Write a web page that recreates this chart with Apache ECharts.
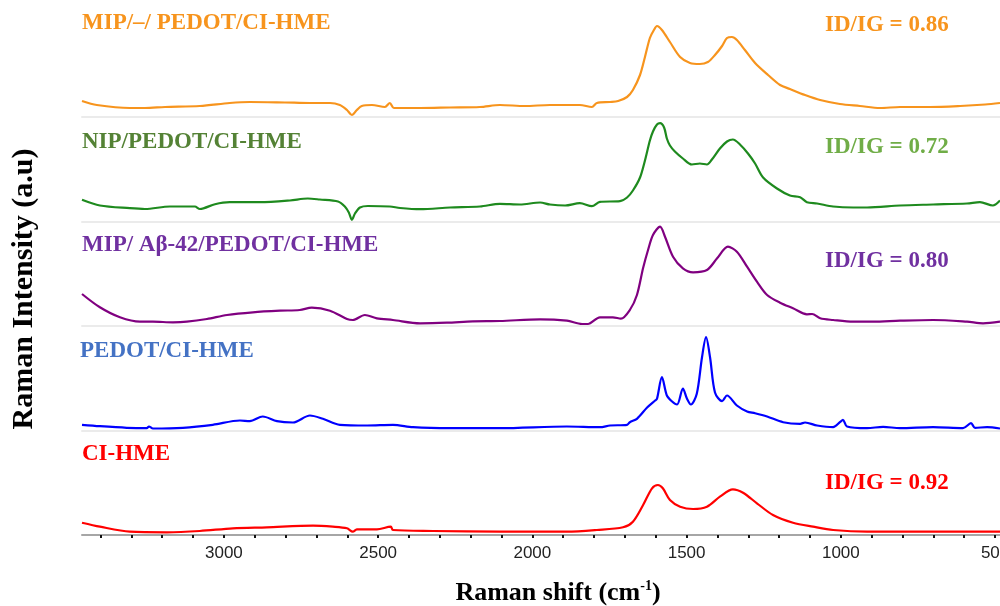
<!DOCTYPE html>
<html>
<head>
<meta charset="utf-8">
<style>
  html, body { margin: 0; padding: 0; background: #fff; }
  #chart { width: 1000px; height: 606px; }
</style>
<script src="https://cdn.jsdelivr.net/npm/echarts@6/dist/echarts.min.js"></script>
</head>
<body>
<div id="chart"></div>
<script>
// Raman shift axis (cm-1), drawn high to low
const shiftMin = 484;
const shiftMax = 3460;
const tickLabels = [3000, 2500, 2000, 1500, 1000, 500];
const tickMarks = [500, 600, 700, 800, 900, 1000, 1100, 1200, 1300, 1400, 1500, 1600, 1700, 1800, 1900,
  2000, 2100, 2200, 2300, 2400, 2500, 2600, 2700, 2800, 2900, 3000, 3100, 3200, 3300, 3400];

// MIP/–/ PEDOT/CI-HME
const mipEmptyShift = [3460,3412,3305,3256,3191,3078,2981,2916,2802,2721,2656,2624,2601,2585,2569,2553,2520,2478,2462,2449,
  2364,2267,2170,2105,2024,1943,1846,1807,1791,1748,1722,1693,1674,1651,1635,1619,1606,1596,1580,1554,
  1521,1489,1457,1431,1408,1385,1369,1353,1337,1311,1278,1236,1197,1165,1116,1067,1003,938,873,808,711,613,532,484];
const mipEmptyInt = [16,12,9,9,10,11,14,15,14.5,14,14,12,7,2,7,11,12,10,14,9,
  9,9.5,10,12,11,12,12,10,14,15,16,20,27,42,60,79,87,91,87,75,
  60,54,53,55,62,71,79,80,77,67,54,42,32,28,22,17,13,11,9,10,10,11,12.5,14];

// NIP/PEDOT/CI-HME
const nipShift = [3460,3402,3305,3256,3175,3094,3078,3029,2981,2883,2786,2728,2689,2630,2608,2595,2585,2575,2559,2533,
  2462,2429,2364,2267,2170,2105,2040,1975,1943,1894,1846,1807,1781,1716,1693,1674,1651,1635,1619,1609,
  1596,1586,1573,1564,1554,1538,1512,1483,1457,1434,1418,1392,1369,1350,1327,1301,1278,1252,1207,1165,
  1132,1110,1077,1025,960,915,808,701,591,549,507,484];
const nipInt = [21.7,16,13.3,12.5,15,15,12.5,17.3,19.3,19.3,21,23,22,20,15,9,1.7,8,14,15.5,
  15,13.5,12.3,14,15,17.7,17,19,17,16,18.3,15.3,19.7,20.3,24,31,44,61,81,90,
  97,98.3,94,83,76,70,63,57,58,57,62,73,80,82,77,68,58,44,33,26,
  24.3,19.3,18,15,14,14,16,17,18,19.3,16,21];

// MIP/ Aβ-42/PEDOT/CI-HME
const mipAbShift = [3460,3402,3337,3272,3230,3165,3120,3055,2990,2906,2818,2754,2715,2656,2601,2582,2543,2504,2452,2364,
  2277,2193,2105,1975,1888,1839,1820,1781,1739,1713,1684,1661,1641,1625,1609,1586,1570,1544,1512,1479,
  1434,1401,1366,1337,1304,1272,1239,1197,1155,1110,1093,1067,1025,960,896,808,701,591,539,484];
const mipAbInt = [32,18.7,8.7,4.3,4.3,3.7,4.3,7,11,13.7,15.3,16,18.3,15.3,7,6,11,7.7,6,2.7,
  3.3,4.7,5,6.7,5.3,2,2,8.7,8.7,7.3,16,31,58,76,91,99.3,89.3,69.3,57.7,53.7,
  56,67.7,79.3,74.3,59.3,44.3,31,23.3,17.7,11.7,12,7.7,6,4.3,4.3,5.3,6,4.3,2.7,4.3];

// PEDOT/CI-HME
const pedotShift = [3460,3402,3315,3250,3243,3230,3133,3036,2948,2916,2874,2828,2776,2721,2679,2624,2536,2452,2387,2267,
  2105,1888,1781,1748,1693,1684,1661,1628,1602,1596,1580,1564,1547,1531,1512,1499,1486,1467,1450,1437,
  1424,1408,1385,1369,1337,1304,1278,1239,1187,1132,1116,1077,1025,1003,993,980,915,863,808,701,
  604,578,565,526,484];
const pedotInt = [5.7,4.3,2.7,2.3,4,2,2.7,5.7,10,9.3,14,9.3,8,15,11.7,5.7,5,5.7,3.3,2.3,
  2.3,4,3.3,5,5.7,8.3,11.7,23,30,31.7,53.3,35,29,26,42,32,26,36.7,73.3,93.3,
  73.3,38,29.3,35,25,19,17.3,14,8.3,6.7,8,5,3.3,8.3,10.7,4,2.3,3.7,2.3,3.3,
  2.3,7.3,2.7,3.3,2];

// CI-HME
const hmeShift = [3460,3402,3305,3185,3078,2971,2861,2711,2647,2601,2582,2569,2504,2459,2452,2322,2105,1888,1791,1706,
  1674,1641,1612,1593,1577,1554,1521,1479,1434,1392,1350,1317,1272,1220,1155,1090,1025,915,701,484];
const hmeInt = [12.3,8.3,3.3,2.7,4,6.7,7.7,9.3,8.3,6.7,3.3,5.7,5.7,8.3,5,4,3.3,3.3,5,7.7,
  13.3,30,46.7,50,46.7,35,28.3,26,28.3,38.3,45.7,42.3,31.7,20,12.3,8.3,5,3.3,3.3,3.3];

// Sample names and D/G band ratios
const sampleNames = ['MIP/–/ PEDOT/CI-HME', 'NIP/PEDOT/CI-HME', 'MIP/ Aβ-42/PEDOT/CI-HME', 'PEDOT/CI-HME', 'CI-HME'];
const ratios = ['ID/IG = 0.86', 'ID/IG = 0.72', 'ID/IG = 0.80', null, 'ID/IG = 0.92'];

const spectra = [
  [mipEmptyShift, mipEmptyInt],
  [nipShift, nipInt],
  [mipAbShift, mipAbInt],
  [pedotShift, pedotInt],
  [hmeShift, hmeInt]
];

const lineColors = ['#F7941D', '#1E8A1E', '#800080', '#0000FF', '#FF0000'];
const nameColors = ['#F7941D', '#548235', '#7030A0', '#4472C4', '#FF0000'];
const ratioColors = ['#F7941D', '#70AD47', '#7030A0', null, '#FF0000'];

const serif = "'Liberation Serif', 'Times New Roman', serif";
const panelTop = 12.5;
const panelH = 104.5;
const plotLeft = 82;

const grids = [], xAxes = [], yAxes = [], series = [], texts = [];

spectra.forEach(([shift, inten], i) => {
  const last = i === spectra.length - 1;
  grids.push({
    left: plotLeft, right: 0, top: panelTop + i * panelH, height: panelH,
    containLabel: false, outerBoundsMode: 'none'
  });
  xAxes.push({
    gridIndex: i, type: 'value', inverse: true, min: shiftMin, max: shiftMax,
    axisLine: { show: true, lineStyle: last ? { color: '#a6a6a6', width: 2 } : { color: '#ebebeb', width: 2 } },
    axisTick: last
      ? { show: true, customValues: tickMarks, length: 3, lineStyle: { color: '#111', width: 2 } }
      : { show: false },
    axisLabel: last
      ? { show: true, customValues: tickLabels, margin: 10, fontSize: 17, color: '#222',
          hideOverlap: false, formatter: (v) => String(v),
          fontFamily: "'Liberation Sans Narrow', 'Liberation Sans', Arial, sans-serif" }
      : { show: false },
    splitLine: { show: false }
  });
  yAxes.push({ gridIndex: i, type: 'value', min: 0, max: panelH, show: false });
  series.push({
    type: 'line', xAxisIndex: i, yAxisIndex: i,
    data: shift.map((s, k) => [s, inten[k]]),
    showSymbol: false, smooth: 0.3, clip: false,
    lineStyle: { color: lineColors[i], width: 2.2 },
    silent: true, animation: false
  });
});

// Sample name and ratio labels per panel
const nameY = [23, 142.5, 245, 351.5, 454.5];
const ratioY = [25.5, 147.5, 261, null, 483.5];
sampleNames.forEach((n, i) => {
  texts.push({
    type: 'text', x: i === 3 ? 80 : 82, y: nameY[i],
    style: { text: n, fill: nameColors[i], font: 'bold 23px ' + serif, verticalAlign: 'middle' }
  });
  if (ratios[i]) {
    texts.push({
      type: 'text', x: 825, y: ratioY[i],
      style: { text: ratios[i], fill: ratioColors[i], font: 'bold 23px ' + serif, verticalAlign: 'middle' }
    });
  }
});

// Axis titles
texts.push({
  type: 'text', x: 24, y: 289, rotation: Math.PI / 2,
  style: { text: 'Raman Intensity (a.u)', fill: '#000', font: 'bold 30px ' + serif,
           align: 'center', verticalAlign: 'middle' }
});
texts.push({
  type: 'text', x: 558, y: 593,
  style: {
    text: '{m|Raman shift (cm}{s|-1}{m|)}',
    align: 'center', verticalAlign: 'middle',
    rich: {
      m: { fontFamily: serif, fontWeight: 'bold', fontSize: 26, fill: '#000', lineHeight: 28 },
      s: { fontFamily: serif, fontWeight: 'bold', fontSize: 14, fill: '#000', verticalAlign: 'top', lineHeight: 28, padding: [0, 0, 12, 0] }
    }
  }
});

const chart = echarts.init(document.getElementById('chart'), null, { renderer: 'canvas' });
chart.setOption({
  animation: false,
  backgroundColor: '#fff',
  grid: grids,
  xAxis: xAxes,
  yAxis: yAxes,
  series: series,
  graphic: texts
});
</script>
</body>
</html>
